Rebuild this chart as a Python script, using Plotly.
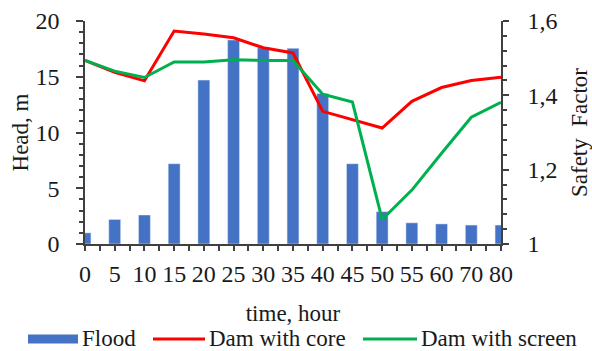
import plotly.graph_objects as go
import numpy as np

# time steps (hours), flood head and safety factors
time_labels = ["0", "5", "10", "15", "20", "25", "30", "35", "40", "45", "50", "55", "60", "70", "80"]
flood_head = [1.0, 2.2, 2.6, 7.2, 14.7, 18.3, 17.6, 17.55, 13.5, 7.2, 2.9, 1.9, 1.8, 1.7, 1.7]
sf_core = [1.494, 1.462, 1.439, 1.573, 1.565, 1.555, 1.528, 1.514, 1.357, 1.334, 1.312, 1.384, 1.421, 1.440, 1.449]
sf_screen = [1.494, 1.465, 1.448, 1.490, 1.490, 1.496, 1.494, 1.494, 1.403, 1.382, 1.066, 1.145, 1.244, 1.341, 1.381]
series_names = ["Flood", "Dam with core", "Dam with screen"]

pos = np.arange(len(time_labels))

BLUE = "#4472C4"
RED = "#FF0000"
GREEN = "#00B050"
AXIS = "#404040"
TEXT = "#1a1a1a"
FONT = "Liberation Serif"

W, H = 592, 351
ML, MR, MT, MB = 85, 91, 21, 107
PW, PH = W - ML - MR, H - MT - MB


def px_x(x):
    return (x - ML) / PW


def px_y(y):
    return (H - MB - y) / PH


fig = go.Figure()

fig.add_trace(go.Bar(
    x=pos, y=flood_head, width=0.4, marker_color=BLUE,
    name=series_names[0], yaxis="y",
))
fig.add_trace(go.Scatter(
    x=pos, y=sf_core, mode="lines", name=series_names[1],
    line=dict(color=RED, width=3), yaxis="y2",
))
fig.add_trace(go.Scatter(
    x=pos, y=sf_screen, mode="lines", name=series_names[2],
    line=dict(color=GREEN, width=3), yaxis="y2",
))

tick_font = dict(family=FONT, size=24, color=TEXT)
title_font = dict(family=FONT, size=23, color=TEXT)

# legend row below the x-axis title
legend_y = 338
shapes = [
    dict(type="rect", xref="paper", yref="paper",
         x0=px_x(28), x1=px_x(78), y0=px_y(legend_y + 1 - 4.5), y1=px_y(legend_y + 1 + 4.5),
         fillcolor=BLUE, line=dict(width=0)),
    dict(type="line", xref="paper", yref="paper",
         x0=px_x(153), x1=px_x(205), y0=px_y(legend_y + 1), y1=px_y(legend_y + 1),
         line=dict(color=RED, width=3)),
    dict(type="line", xref="paper", yref="paper",
         x0=px_x(363), x1=px_x(417), y0=px_y(legend_y + 1), y1=px_y(legend_y + 1),
         line=dict(color=GREEN, width=3)),
]
annotations = [
    dict(text=name, xref="paper", yref="paper", x=px_x(xs), y=px_y(legend_y),
         xanchor="left", yanchor="middle", showarrow=False, borderpad=0,
         font=dict(family=FONT, size=23, color=TEXT))
    for name, xs in zip(series_names, [81, 208, 420])
]

fig.update_layout(
    width=W, height=H,
    margin=dict(l=ML, r=MR, t=MT, b=MB),
    paper_bgcolor="white", plot_bgcolor="white",
    font=dict(family=FONT, size=23, color=TEXT),
    separators=", ",
    showlegend=False,
    shapes=shapes,
    annotations=annotations,
    xaxis=dict(
        range=[0, 14], tickmode="array", tickvals=pos, ticktext=time_labels,
        showline=True, linecolor=AXIS, linewidth=1.5,
        ticks="outside", ticklen=5, tickcolor=AXIS, tickwidth=1.5,
        minor=dict(tickmode="linear", tick0=0.5, dtick=1, ticks="outside",
                   ticklen=5, tickcolor=AXIS, tickwidth=1.5),
        showgrid=False, zeroline=False, automargin=False,
        ticklabelstandoff=2,
        title=dict(text="time, hour", standoff=19, font=title_font),
        tickfont=tick_font,
    ),
    yaxis=dict(
        range=[0, 20], dtick=5, showline=True, linecolor=AXIS, linewidth=1.5,
        ticks="outside", ticklen=7, tickcolor=AXIS, tickwidth=1.5,
        minor=dict(dtick=1, ticks="outside", ticklen=4, tickcolor=AXIS, tickwidth=1.5),
        showgrid=False, zeroline=False, automargin=False,
        ticklabelstandoff=12,
        title=dict(text="Head, m", standoff=0, font=title_font),
        tickfont=tick_font,
    ),
    yaxis2=dict(
        range=[1, 1.6], dtick=0.2, overlaying="y", side="right",
        showline=True, linecolor=AXIS, linewidth=1.5,
        ticks="outside", ticklen=6, tickcolor=AXIS, tickwidth=1.5,
        minor=dict(dtick=0.04, ticks="outside", ticklen=4, tickcolor=AXIS, tickwidth=1.5),
        showgrid=False, zeroline=False, automargin=False,
        ticklabelstandoff=14,
        title=dict(text="Safety\u00a0\u00a0Factor", standoff=16, font=title_font),
        tickfont=tick_font,
    ),
)

fig.write_html("out.html")
